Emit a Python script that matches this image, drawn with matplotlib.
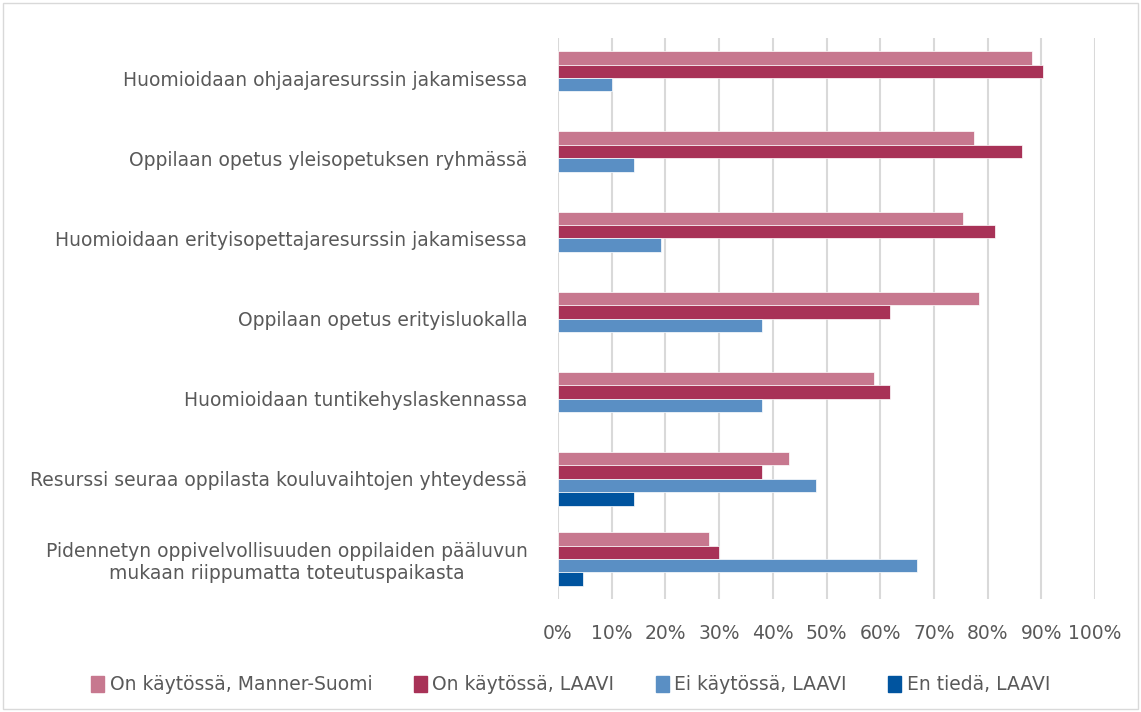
import numpy as np
import matplotlib
matplotlib.use("Agg")
import matplotlib.pyplot as plt
from matplotlib.patches import Rectangle

# categories, top to bottom
categories = [
    "Huomioidaan ohjaajaresurssin jakamisessa",
    "Oppilaan opetus yleisopetuksen ryhmässä",
    "Huomioidaan erityisopettajaresurssin jakamisessa",
    "Oppilaan opetus erityisluokalla",
    "Huomioidaan tuntikehyslaskennassa",
    "Resurssi seuraa oppilasta kouluvaihtojen yhteydessä",
    "Pidennetyn oppivelvollisuuden oppilaiden pääluvun\nmukaan riippumatta toteutuspaikasta",
]

# values in percent
on_manner_suomi = [88.3, 77.4, 75.4, 78.4, 58.9, 43.0, 28.1]
on_laavi = [90.4, 86.4, 81.3, 61.9, 61.9, 38.0, 30.0]
ei_laavi = [10.1, 14.1, 19.1, 38.0, 38.0, 48.0, 66.9]
en_tieda_laavi = [np.nan, np.nan, np.nan, np.nan, np.nan, 14.1, 4.6]

series_names = ["On käytössä, Manner-Suomi", "On käytössä, LAAVI",
                "Ei käytössä, LAAVI", "En tiedä, LAAVI"]
colors = ["#C7788F", "#A83257", "#5A8FC4", "#00549F"]
tick_vals = list(range(0, 101, 10))
tick_labels = [f"{t}%" for t in tick_vals]

txt = "#595959"
fig = plt.figure(figsize=(11.41, 7.12), dpi=100)
ax = fig.add_axes([558 / 1141, 1 - 599 / 712, 537 / 1141, 561 / 712])

y = np.arange(len(categories))
h = 0.1675
all_series = [on_manner_suomi, on_laavi, ei_laavi, en_tieda_laavi]
handles = []
for k, (vals, col, name) in enumerate(zip(all_series, colors, series_names)):
    vals = np.array(vals, dtype=float)
    mask = ~np.isnan(vals)
    off = (k - 1.5) * h
    ax.barh(y[mask] + off, vals[mask], height=h, color=col,
            edgecolor="white", linewidth=0.5, zorder=3)
    handles.append(Rectangle((0, 0), 1, 1, color=col, label=name))

ax.set_xlim(0, 100)
ax.set_ylim(len(categories) - 0.5, -0.5)
ax.set_xticks(tick_vals)
ax.set_xticklabels(tick_labels, fontsize=13.5, color=txt)
ax.set_yticks(y)
ax.set_yticklabels(categories, fontsize=13.5, color=txt, multialignment="center")
ax.tick_params(axis="both", length=0)
ax.tick_params(axis="x", pad=18)
ax.tick_params(axis="y", pad=22)
ax.grid(axis="x", color="#D9D9D9", linewidth=1.5, zorder=0)
for s in ax.spines.values():
    s.set_visible(False)

fig.legend(handles=handles, loc="center", bbox_to_anchor=(0.5, 1 - 685 / 712),
           ncol=4, frameon=False, fontsize=13.5, labelcolor=txt,
           handlelength=0.7, handleheight=0.9, handletextpad=0.3, columnspacing=2.2)

# chart area border
fig.patches.append(Rectangle((3 / 1141, 3 / 712), 1 - 6 / 1141, 1 - 6 / 712,
                             transform=fig.transFigure, fill=False,
                             edgecolor="#D9D9D9", linewidth=1))

fig.savefig("out.png", dpi=100)
